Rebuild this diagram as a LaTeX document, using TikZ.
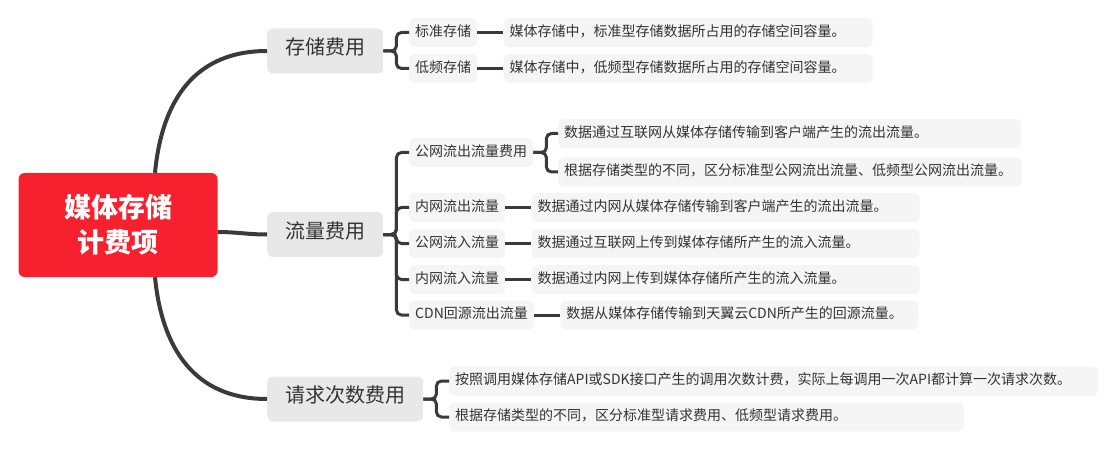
\documentclass[tikz,border=0pt]{standalone}
\usepackage{fontspec}
\setmainfont{Noto Sans CJK SC}
\usetikzlibrary{positioning}
\definecolor{rootred}{RGB}{247,32,46}
\definecolor{linegray}{RGB}{58,58,58}
\definecolor{topicgray}{RGB}{232,232,232}
\definecolor{subgray}{RGB}{245,245,245}
\definecolor{textgray}{RGB}{51,51,51}

\begin{document}
\begin{tikzpicture}[x=1pt, y=-1pt, node distance=26pt,
    root node/.style={rectangle,rounded corners=6pt,fill=rootred,text=white,
      font=\fontsize{27}{35}\selectfont\bfseries,align=center,
      minimum width=199pt,minimum height=104pt},
    topic node/.style={rectangle,rounded corners=6pt,fill=topicgray,text=textgray,
      font=\fontsize{20}{22}\selectfont,minimum height=45pt,inner xsep=18pt,
      text height=0.86em,text depth=0.1em,anchor=west},
    sub node/.style={rectangle,rounded corners=5pt,fill=subgray,text=textgray,
      font=\fontsize{14}{16}\selectfont,minimum height=29pt,inner xsep=6pt,
      text height=0.86em,text depth=0.1em,anchor=west},
    leaf node/.style={sub node,text width=#1,align=left},
    branch/.style={draw=linegray,line width=4pt},
    link/.style={draw=linegray,line width=3pt,rounded corners=5pt}]

  \useasboundingbox (0,0) rectangle (1116,449);

  \node[root node] (root) at (118,225) {媒体存储\\计费项};

  \node[topic node] (store) at (267,51) {存储费用};
  \node[topic node] (flow) at (267,234.5) {流量费用};
  \node[topic node] (req) at (267,399) {请求次数费用};

  \node[sub node] (std) at (409,32.5) {标准存储};
  \node[sub node] (low) at (409,68.5) {低频存储};
  \node[leaf node=357pt] (stdleaf) [right=of std] {媒体存储中，标准型存储数据所占用的存储空间容量。};
  \node[leaf node=357pt] (lowleaf) [right=of low] {媒体存储中，低频型存储数据所占用的存储空间容量。};

  \node[sub node] (pubout) at (409,152.5) {公网流出流量费用};
  \node[sub node] (inout) at (409,207.5) {内网流出流量};
  \node[sub node] (pubin) at (409,243.5) {公网流入流量};
  \node[sub node] (inin) at (409,279.5) {内网流入流量};
  \node[sub node] (cdn) at (409,315) {CDN回源流出流量};

  \node[leaf node=451pt] (puboutA) at (558,133.5) {数据通过互联网从媒体存储传输到客户端产生的流出流量。};
  \node[leaf node=452pt] (puboutB) at (558,172) {根据存储类型的不同，区分标准型公网流出流量、低频型公网流出流量。};
  \node[leaf node=376pt] (inoutleaf) [right=of inout] {数据通过内网从媒体存储传输到客户端产生的流出流量。};
  \node[leaf node=376pt] (pubinleaf) [right=of pubin] {数据通过互联网上传到媒体存储所产生的流入流量。};
  \node[leaf node=376pt] (ininleaf) [right=of inin] {数据通过内网上传到媒体存储所产生的流入流量。};
  \node[leaf node=346pt] (cdnleaf) [right=of cdn] {数据从媒体存储传输到天翼云CDN所产生的回源流量。};

  \node[leaf node=637pt] (reqA) at (449,381) {按照调用媒体存储API或SDK接口产生的调用次数计费，实际上每调用一次API都计算一次请求次数。};
  \node[leaf node=503pt] (reqB) at (449,417) {根据存储类型的不同，区分标准型请求费用、低频型请求费用。};

  \draw[branch] ([xshift=37pt]root.north) .. controls +(7,-73) and +(-72,0) .. (store.west);
  \draw[branch] ([yshift=-7pt]root.east) to[out=0,in=180] (flow.west);
  \draw[branch] ([xshift=37pt]root.south) .. controls +(7,72) and +(-72,0) .. (req.west);

  \foreach \kid in {std,low}
    \draw[link] (store.east) -- ++(13,0) |- (\kid.west);
  \foreach \kid in {pubout,inout,pubin,inin,cdn}
    \draw[link] (flow.east) -- ++(13,0) |- (\kid.west);
  \foreach \kid in {puboutA,puboutB}
    \draw[link] (pubout.east) -- ++(13,0) |- (\kid.west);
  \foreach \kid in {reqA,reqB}
    \draw[link] (req.east) -- ++(13,0) |- (\kid.west);

  \path[every edge/.style={link}]
  (std) edge (stdleaf)
  (low) edge (lowleaf)
  (inout) edge (inoutleaf)
  (pubin) edge (pubinleaf)
  (inin) edge (ininleaf)
  (cdn) edge (cdnleaf)
  ;
\end{tikzpicture}
\end{document}
